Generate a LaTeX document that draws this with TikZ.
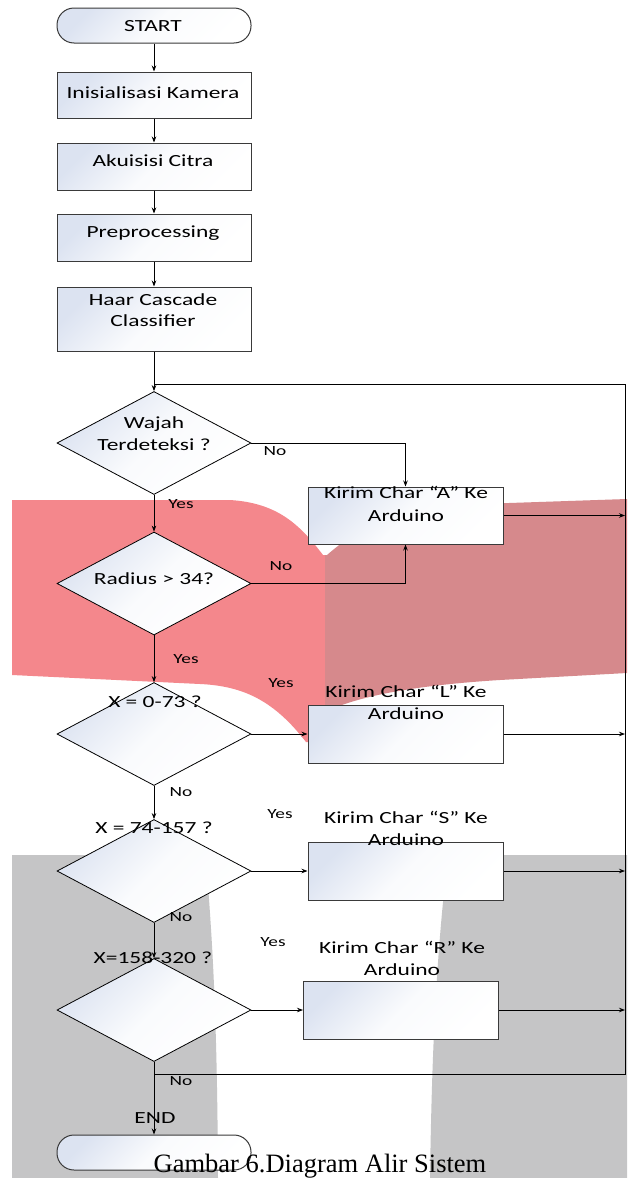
\documentclass[tikz,border=0pt]{standalone}
\usepackage{fontspec}
\newfontfamily\diagfont[FakeStretch=1.38]{Carlito}
\newfontfamily\capfont{Liberation Serif}
\usetikzlibrary{arrows.meta,shapes.geometric}
\definecolor{fillblue}{HTML}{DCE3F1}
\definecolor{redL}{HTML}{F4878C}
\definecolor{redR}{HTML}{D6898C}
\definecolor{wmgray}{HTML}{C5C5C6}
\definecolor{border}{HTML}{3A3A3A}
\begin{document}
\begin{tikzpicture}[x=1pt,y=-1pt,
  grad/.style={top color=fillblue, bottom color=white, middle color=white!85!fillblue, shading angle=45},
  proc/.style={draw=border, line width=1pt, grad, minimum width=194pt, inner sep=0pt, rectangle},
  term/.style={proc, rounded corners=17pt, minimum height=35pt},
  dia/.style={diamond, draw=black, line width=0.8pt, grad, minimum width=194pt, minimum height=103pt, inner sep=0pt},
  arr/.style={line width=0.8pt, -{Stealth[length=6pt,width=4.5pt]}},
  plain/.style={line width=0.8pt},
  txt/.style={font=\diagfont\fontsize{17}{20}\selectfont, inner sep=0pt, anchor=base},
  lbl/.style={font=\diagfont\fontsize{14}{16}\selectfont, inner sep=0pt, anchor=base}
]
\useasboundingbox (0,0) rectangle (627,1178);
\fill[white] (0,0) rectangle (627,1178);
% watermark
\fill[redL] (12,500) -- (230,500) .. controls (278,503) and (300,525) .. (323,555) -- (325,555) -- (325,742) -- (306,742) .. controls (275,702) and (245,686) .. (200,684) -- (12,675) -- cycle;
\fill[redR] (325,555) -- (327,555) .. controls (350,535) and (385,510) .. (450,505) -- (627,499) -- (627,673) -- (500,680) .. controls (420,685) and (360,695) .. (325,712) -- cycle;
\fill[wmgray] (12,855) -- (206,855) .. controls (210,920) and (217,980) .. (218,1178) -- (12,1178) -- cycle;
\fill[wmgray] (448,855) -- (627,855) -- (627,1178) -- (430,1178) .. controls (432,1040) and (437,950) .. (448,855) -- cycle;
% shapes
\node[term] (start) at (154,25.5) {};
\node[proc, minimum height=46pt] (ini) at (154,95) {};
\node[proc, minimum height=47pt] (aku) at (154,166.5) {};
\node[proc, minimum height=47pt] (pre) at (154,237.5) {};
\node[proc, minimum height=64pt] (haar) at (154,319) {};
\node[dia] (d1) at (154,443) {};
\node[dia] (d2) at (154,583.5) {};
\node[dia] (d3) at (154,734) {};
\node[dia] (d4) at (154,871) {};
\node[dia] (d5) at (154,1010) {};
\node[proc, minimum width=195pt, minimum height=57pt] (boxA) at (405.5,515.5) {};
\node[proc, minimum width=195pt, minimum height=58pt] (boxL) at (405.5,734) {};
\node[proc, minimum width=195pt, minimum height=58pt] (boxS) at (405.5,871) {};
\node[proc, minimum width=195pt, minimum height=58pt] (boxR) at (401,1010) {};
\node[term] (endt) at (154,1152.5) {};
\coordinate (tr) at (625,384);
\coordinate (br) at (625,1074);
% connectors
\draw[arr] (start.south) -- (ini.north);
\draw[arr] (ini.south) -- (aku.north);
\draw[arr] (aku.south) -- (pre.north);
\draw[arr] (pre.south) -- (haar.north);
\draw[arr] (haar.south) -- (d1.north);
\draw[plain] (d5.south |- br) -- (br) -- (tr) -- (tr -| d1.north);
\draw[arr] (d1.east) -| (boxA.north);
\draw[arr] (d1.south) -- (d2.north);
\draw[arr] (d2.east) -| (boxA.south);
\draw[arr] (d2.south) -- (d3.north);
\draw[arr] (d3.east) -- (boxL.west);
\draw[arr] (d3.south) -- (d4.north);
\draw[arr] (d4.east) -- (boxS.west);
\draw[arr] (d4.south) -- (d5.north);
\draw[arr] (d5.east) -- (boxR.west);
\draw[arr] (d5.south) -- (endt.north);
\draw[arr] (boxA.east) -- (boxA.east -| tr);
\draw[arr] (boxL.east) -- (boxL.east -| tr);
\draw[arr] (boxS.east) -- (boxS.east -| tr);
\draw[arr] (boxR.east) -- (boxR.east -| tr);
% texts
\node[txt] (tstart) at (153,31.5) {START};
\node[txt] (tini) at (153,98.5) {Inisialisasi Kamera};
\node[txt] (taku) at (153,166.5) {Akuisisi Citra};
\node[txt] (tpre) at (153,237) {Preprocessing};
\node[txt] (thaar1) at (153,305) {Haar Cascade};
\node[txt] (thaar2) at (153,326.5) {Classifier};
\node[txt] (td1a) at (154,428) {Wajah};
\node[txt] (td1b) at (154,450) {Terdeteksi ?};
\node[txt] (td2) at (154,584) {Radius > 34?};
\node[txt] (td3) at (155,707) {X = 0-73 ?};
\node[txt] (td4) at (154,833) {X = 74-157 ?};
\node[txt] (td5) at (153,963) {X=158-320 ?};
\node[txt] (tA1) at (406,498) {Kirim Char “A” Ke};
\node[txt] (tA2) at (406,521) {Arduino};
\node[txt] (tL1) at (406,697) {Kirim Char “L” Ke};
\node[txt] (tL2) at (406,719) {Arduino};
\node[txt] (tS1) at (406,823) {Kirim Char “S” Ke};
\node[txt] (tS2) at (406,845) {Arduino};
\node[txt] (tR1) at (402,953) {Kirim Char “R” Ke};
\node[txt] (tR2) at (402,975) {Arduino};
\node[txt] (tend) at (155,1123) {END};
\node[lbl] (no1) at (275,455) {No};
\node[lbl] (yes1) at (181,508) {Yes};
\node[lbl] (no2) at (281,570) {No};
\node[lbl] (yes2) at (186,663) {Yes};
\node[lbl] (yes3) at (281,687) {Yes};
\node[lbl] (no3) at (181,796) {No};
\node[lbl] (yes4) at (280,818) {Yes};
\node[lbl] (no4) at (181,921) {No};
\node[lbl] (yes5) at (273,946) {Yes};
\node[lbl] (no5) at (181,1085) {No};
\node[anchor=base, font=\capfont\fontsize{26.5}{30}\selectfont, inner sep=0pt] (cap) at (320,1172) {Gambar 6.Diagram Alir Sistem};
\end{tikzpicture}
\end{document}
